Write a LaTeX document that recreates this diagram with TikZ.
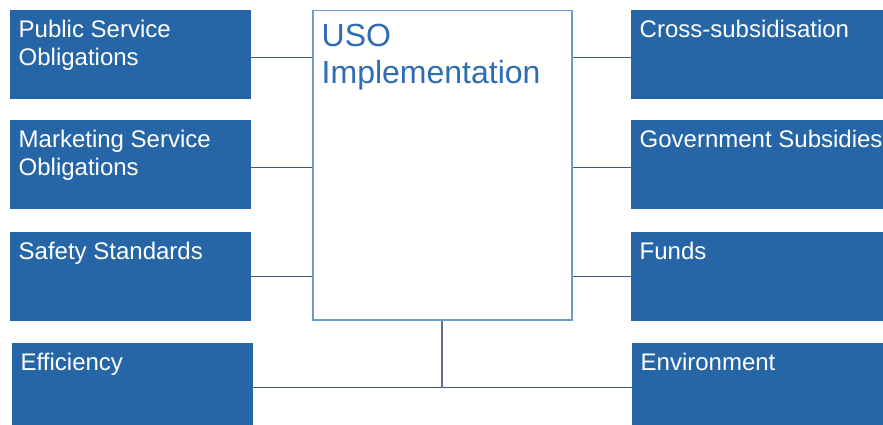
\documentclass[tikz,border=0pt]{standalone}
\usepackage{fontspec}
\setmainfont{Liberation Sans}
\usepackage{xcolor}
\usepackage{tikz}
\usetikzlibrary{shapes,arrows}

\definecolor{boxblue}{HTML}{2766A6}
\definecolor{rimblue}{HTML}{6A9BCB}
\definecolor{titleblue}{HTML}{2E6DB4}
\definecolor{linkblue}{HTML}{46557F}

\tikzset{
  block/.style={fill=boxblue, draw=none, anchor=north west, inner sep=0pt,
    minimum width=241pt, minimum height=89pt},
  rblock/.style={block, minimum width=252pt},
  lbl/.style={anchor=north west, inner xsep=8.5pt, inner ysep=10pt,
    text=white, align=left, font=\fontsize{24}{28}\selectfont},
  link/.style={draw=linkblue, line width=1.2pt}
}

\begin{document}
\begin{tikzpicture}[x=1pt,y=-1pt]
\useasboundingbox (0,0) rectangle (883,425);
%
\node[draw=rimblue, line width=1.5pt, fill=white, anchor=north west, inner sep=0pt,
  minimum width=259pt, minimum height=309pt,
  label={[anchor=north west, inner xsep=9.5pt, inner ysep=14pt, text=titleblue,
    align=left, font=\fontsize{32}{37}\selectfont]north west:USO\\Implementation}]
  (uso) at (312,10) {};
%
\node[block, label={[lbl]north west:Public Service\\Obligations}] (pso) at (10,10) {};
\node[block, label={[lbl]north west:Marketing Service\\Obligations}] (mso) at (10,120) {};
\node[block, label={[lbl]north west:Safety Standards}] (safe) at (10,232) {};
\node[block, label={[lbl]north west:Efficiency}] (eff) at (12,343) {};
%
\node[rblock, label={[lbl]north west:Cross-subsidisation}] (cross) at (631,10) {};
\node[rblock, label={[lbl]north west:Government Subsidies}] (gov) at (631,120) {};
\node[rblock, label={[lbl]north west:Funds}] (funds) at (631,232) {};
\node[rblock, label={[lbl]north west:Environment}] (env) at (632,343) {};
%
\draw[link] ([yshift=-2.5pt]pso.east) -- ([yshift=-2.5pt]pso.east -| uso.west);
\draw[link] ([yshift=-3pt]mso.east) -- ([yshift=-3pt]mso.east -| uso.west);
\draw[link] (safe.east) -- (safe.east -| uso.west);
\draw[link] ([yshift=-2.5pt]cross.west) -- ([yshift=-2.5pt]cross.west -| uso.east);
\draw[link] ([yshift=-3pt]gov.west) -- ([yshift=-3pt]gov.west -| uso.east);
\draw[link] (funds.west) -- (funds.west -| uso.east);
%
\draw[link] (eff.east) -- (env.west);
\draw[link, line width=2pt, draw=linkblue!85!white] (uso.south) -- (uso.south |- eff.east);
\end{tikzpicture}
\end{document}
